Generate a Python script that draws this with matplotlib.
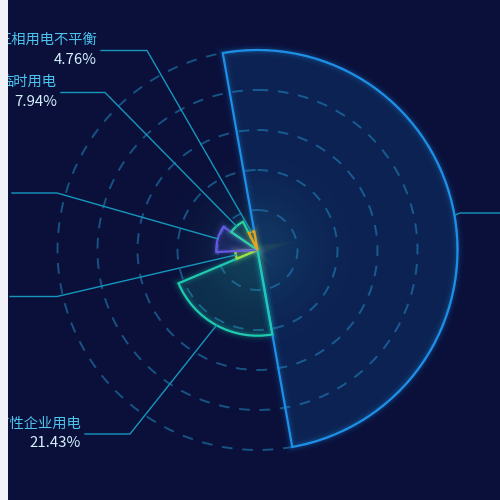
import numpy as np
import matplotlib
matplotlib.use('Agg')
import matplotlib.pyplot as plt
from matplotlib.patches import Wedge, Circle, Rectangle

plt.rcParams['font.family'] = ['Noto Sans CJK SC', 'DejaVu Sans']

# data (clockwise from the start angle)
names = ['居民用电', '季节性企业用电', '电能质量异常', '窃电嫌疑', '临时用电', '三相用电不平衡']
values = [63, 27, 7, 13, 10, 6]
colors = ['#1e8fe6', '#1fcbb0', '#a3dc3e', '#6559e2', '#2fd0a0', '#e6a317']

# layout (pixels, y down)
cx, cy = 257.5, 250
r_max = 200
start = -10  # degrees clockwise from top
ring_r = [40, 80, 120, 160, 200]
# (elbow x, elbow y, line end x) for each label
label_pos = [(460, 213, 505), (130, 434, 85), (57, 296.5, 10),
             (57, 193, 12), (105, 92.5, 61), (147, 50.5, 101)]

bg = '#0a103a'
fig = plt.figure(figsize=(5, 5), dpi=100, facecolor=bg)
ax = fig.add_axes([0, 0, 1, 1])
ax.set_xlim(0, 500)
ax.set_ylim(500, 0)
ax.set_facecolor(bg)
ax.axis('off')

# soft glow at centre
yy, xx = np.mgrid[0:500, 0:500]
d = np.hypot(xx - cx, yy - cy)
glow = np.zeros((500, 500, 4))
glow[..., 0] = 40 / 255
glow[..., 1] = 140 / 255
glow[..., 2] = 150 / 255
glow[..., 3] = 0.2 * np.exp(-(d / 55) ** 2)
ax.imshow(glow, extent=(0, 500, 500, 0), zorder=1)

# dashed rings
for r in ring_r:
    ax.add_patch(Circle((cx, cy), r, fill=False, edgecolor='#1b6a9c', lw=1.4,
                        ls=(0, (5.5, 5)), alpha=0.75, zorder=2))

total = sum(values)
vmax = max(values)
phi = start
for i, v in enumerate(values):
    span = v / total * 360
    r = v / vmax * r_max
    t1, t2 = phi - 90, phi + span - 90
    c = colors[i]
    ax.add_patch(Wedge((cx, cy), r, t1, t2, facecolor=c, alpha=0.15,
                       edgecolor='none', zorder=3))
    for lw, a in [(9, 0.04), (6, 0.06), (4, 0.1)]:
        ax.add_patch(Wedge((cx, cy), r, t1, t2, fill=False, edgecolor=c,
                           lw=lw, alpha=a, zorder=3))
    ax.add_patch(Wedge((cx, cy), r, t1, t2, fill=False, edgecolor=c,
                       lw=1.6, zorder=4))

    # label line
    mid = np.radians(phi + span / 2)
    sx, sy = cx + r * np.sin(mid), cy - r * np.cos(mid)
    ex, ey, lx = label_pos[i]
    ax.plot([sx, ex, lx], [sy, ey, ey], color='#1597bd', lw=1, zorder=5)
    if lx < ex:
        tx, ha = lx - 4, 'right'
    else:
        tx, ha = lx + 4, 'left'
    ax.text(tx, ey - 10.5, names[i], color='#4cc4ee', fontsize=10.3,
            ha=ha, va='center', zorder=6)
    ax.text(tx, ey + 9, f'{v / total * 100:.2f}%', color='#d6f2ff',
            fontsize=10.8, ha=ha, va='center', zorder=6)
    phi += span

# page margin strip on the left
fig.patches.append(Rectangle((0, 0), 8 / 500, 1, transform=fig.transFigure,
                             facecolor='#f1f2f7', edgecolor='none', zorder=10))

fig.savefig('out.png', dpi=100, facecolor=bg)
